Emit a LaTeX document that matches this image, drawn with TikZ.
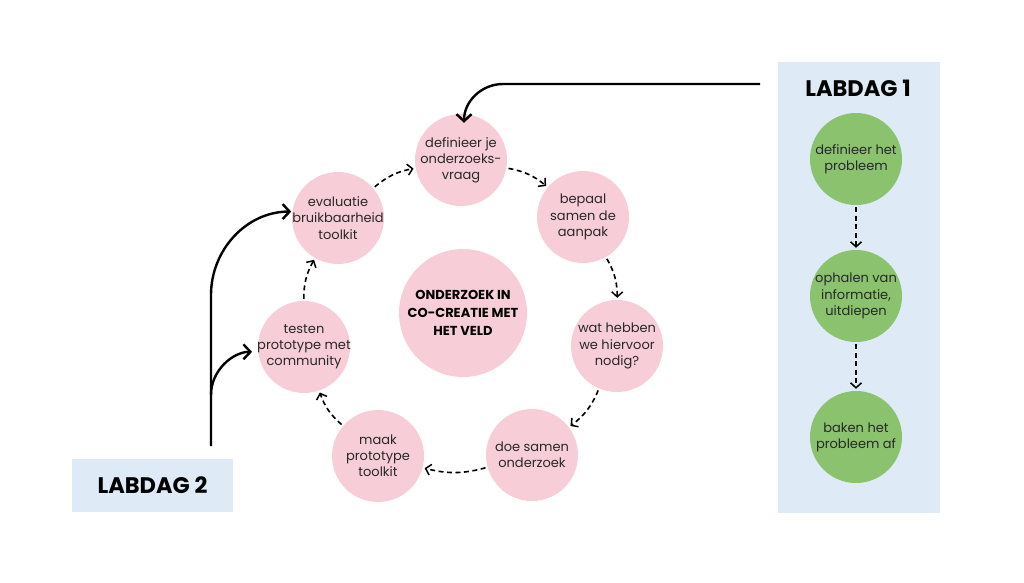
\documentclass[tikz,border=0pt]{standalone}
\usepackage{fontspec}
\setmainfont{Poppins}
\usetikzlibrary{arrows.meta,calc}
\definecolor{pinkc}{RGB}{247,206,216}
\definecolor{greenc}{RGB}{138,194,110}
\definecolor{bluec}{RGB}{222,235,247}
\definecolor{txt}{RGB}{40,40,40}
\tikzset{
  pinknode/.style={circle,fill=pinkc,minimum size=92pt,inner sep=-10pt,align=center,text=txt,font=\fontsize{13}{16.2}\selectfont},
  bignode/.style={circle,fill=pinkc,minimum size=128pt,inner sep=-10pt,align=center,text=black,font=\fontsize{13}{18}\selectfont\bfseries},
  greennode/.style={circle,fill=greenc,minimum size=92pt,inner sep=-10pt,align=center,text=txt,font=\fontsize{13}{16.2}\selectfont},
  dasharrow/.style={line width=1.6pt,dash pattern=on 5pt off 3.5pt,-{Straight Barb[length=5pt,width=11pt,line width=1.5pt]},shorten >=2pt,shorten <=2pt},
  solidarrow/.style={line width=2.4pt,-{Straight Barb[length=7pt,width=15pt,line width=2.4pt]}},
  labtitle/.style={font=\fontsize{22.5}{26}\selectfont\bfseries,text=black}
}
\begin{document}
\begin{tikzpicture}[x=1pt,y=-1pt]
\useasboundingbox (0,0) rectangle (1024,582);
% right panel
\node[fill=bluec,minimum width=162pt,minimum height=451pt,inner sep=0pt,anchor=north west] (panel1) at (778,62) {};
\node[labtitle] (lab1) at (858,88) {LABDAG 1};
\node[greennode] (g1) at (856,159) {definieer het\\probleem};
\node[greennode] (g2) at (856,296) {ophalen van\\informatie,\\uitdiepen};
\node[greennode] (g3) at (856,437) {baken het\\probleem af};
\draw[dasharrow] (g1) -- (g2);
\draw[dasharrow] (g2) -- (g3);
% left box
\node[fill=bluec,minimum width=161pt,minimum height=53pt,inner sep=0pt,labtitle] (lab2) at (152.5,485.5) {LABDAG 2};
% cycle
\node[bignode] (center) at (463,313) {ONDERZOEK IN\\CO-CREATIE MET\\HET VELD};
\node[pinknode] (def) at (461,160) {definieer je\\onderzoeks-\\vraag};
\node[pinknode] (bep) at (583,217) {bepaal\\samen de\\aanpak};
\node[pinknode] (wat) at (617,346) {wat hebben\\we hiervoor\\nodig?};
\node[pinknode] (doe) at (532,455) {doe samen\\onderzoek};
\node[pinknode] (maak) at (378,456) {maak\\prototype\\toolkit};
\node[pinknode] (test) at (304,347) {testen\\prototype met\\community};
\node[pinknode] (eval) at (338,218) {evaluatie\\bruikbaarheid\\toolkit};
\draw[dasharrow] (def) to[bend left=15] (bep);
\draw[dasharrow] (bep) to[bend left=15] (wat);
\draw[dasharrow] (wat) to[bend left=15] (doe);
\draw[dasharrow] (doe) to[bend left=15] (maak);
\draw[dasharrow] (maak) to[bend left=15] (test);
\draw[dasharrow] (test) to[bend left=15] (eval);
\draw[dasharrow] (eval) to[bend left=15] (def);
% solid arrows
\coordinate (t1) at (760,84);
\coordinate (t2) at (503,84);
\coordinate (t3) at ($(def.north)+(3,9)$);
\draw[solidarrow] (t1) -- (t2) to[out=180,in=90] (t3);
\coordinate (s1) at (211,446);
\coordinate (s2) at (211,295);
\coordinate (s3) at (211,395);
\draw[solidarrow,shorten >=1pt] (s1) -- (s2) to[out=90,in=180] (eval.172);
\draw[solidarrow,shorten >=6pt] (s3) to[out=90,in=180] (test.186);
\end{tikzpicture}
\end{document}
